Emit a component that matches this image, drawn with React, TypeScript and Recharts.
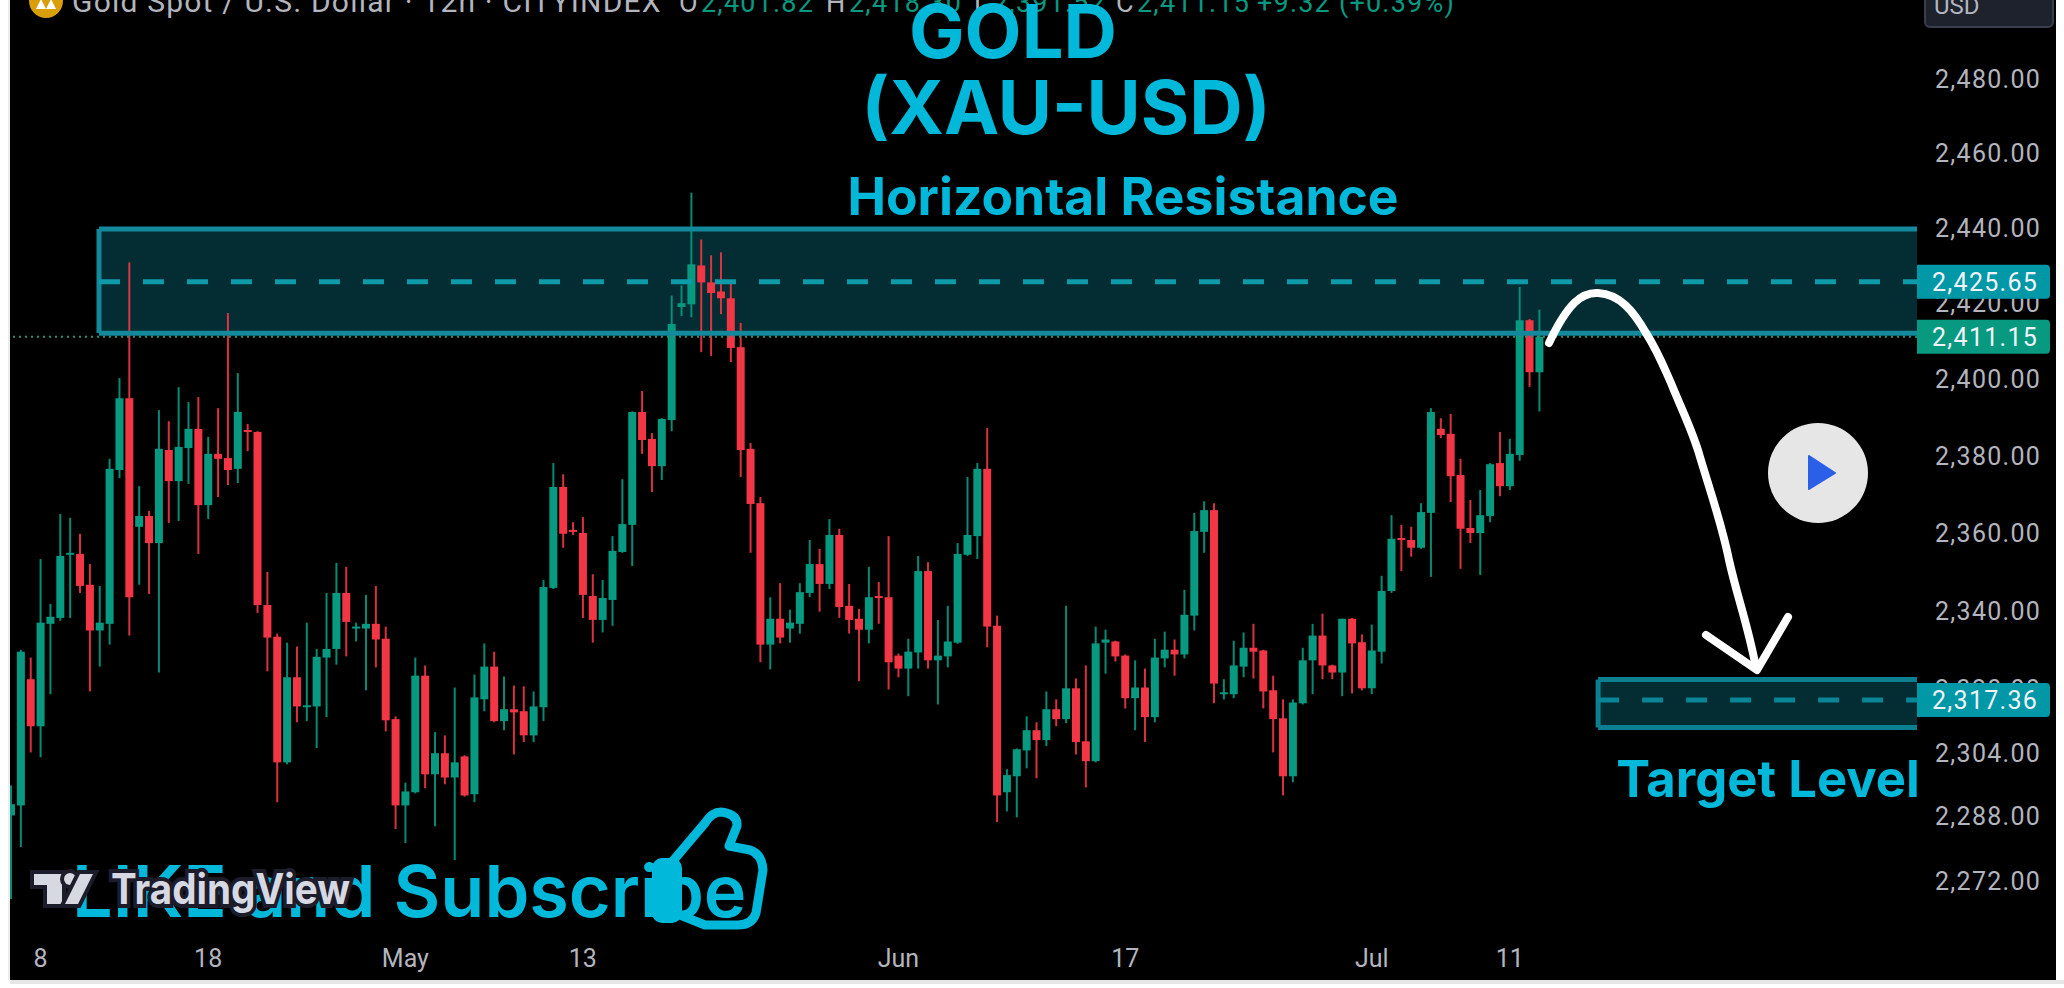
import React from 'react';
import { Bar, ComposedChart, ReferenceArea, ReferenceLine, XAxis, YAxis } from 'recharts';

const opens = [
  2288.3, 2290.8, 2322.6, 2310.7, 2336.7, 2338.2, 2354.4, 2354.6, 2346.7, 2335.0,
  2336.7, 2376.3, 2395.0, 2361.6, 2364.4, 2357.4, 2381.5, 2373.4, 2382.0, 2387.0,
  2367.2, 2380.5, 2379.4, 2376.6, 2386.7, 2386.2, 2341.5, 2333.4, 2301.6, 2323.1,
  2315.7, 2315.7, 2328.1, 2330.3, 2344.6, 2335.5, 2335.5, 2336.7, 2332.9, 2312.5,
  2290.8, 2294.1, 2323.5, 2298.6, 2303.9, 2297.8, 2303.1, 2293.6, 2317.5, 2325.8,
  2312.0, 2315.0, 2314.5, 2308.4, 2315.5, 2345.9, 2371.9, 2360.8, 2360.0, 2343.8,
  2337.7, 2342.8, 2355.1, 2362.1, 2391.4, 2384.4, 2377.3, 2389.3, 2419.0, 2419.7,
  2430.0, 2425.5, 2423.1, 2421.3, 2408.4, 2381.8, 2367.7, 2331.4, 2338.0, 2335.5,
  2336.7, 2344.6, 2352.0, 2346.9, 2359.5, 2341.3, 2338.0, 2335.2, 2343.8, 2343.5,
  2328.6, 2325.3, 2329.4, 2350.2, 2327.4, 2328.4, 2331.9, 2354.4, 2359.2, 2376.6,
  2336.2, 2294.1, 2298.1, 2304.6, 2309.7, 2307.2, 2315.0, 2312.5, 2320.3, 2306.9,
  2301.9, 2331.9, 2332.2, 2328.6, 2317.8, 2320.5, 2313.0, 2327.9, 2330.1, 2328.9,
  2338.8, 2360.3, 2365.9, 2318.8, 2318.8, 2325.8, 2330.6, 2329.9, 2319.8, 2312.7,
  2298.1, 2316.5, 2327.4, 2333.7, 2326.1, 2324.3, 2338.0, 2332.0, 2320.3, 2329.6,
  2345.1, 2358.7, 2358.2, 2356.2, 2365.2, 2387.0, 2385.7, 2375.0, 2361.3, 2360.0,
  2364.4, 2378.1, 2372.1, 2380.2, 2415.5, 2401.82,
];

const closes = [
  2291.1, 2329.6, 2310.7, 2337.0, 2338.5, 2354.1, 2354.9, 2346.4, 2335.0, 2337.0,
  2376.6, 2395.0, 2343.5, 2364.4, 2357.4, 2381.8, 2373.4, 2382.3, 2387.0, 2367.2,
  2380.5, 2379.2, 2376.3, 2391.4, 2386.2, 2341.5, 2333.2, 2301.6, 2323.1, 2315.7,
  2316.0, 2328.3, 2330.3, 2344.6, 2337.2, 2336.0, 2336.7, 2332.7, 2312.2, 2290.8,
  2294.3, 2323.5, 2298.6, 2303.9, 2297.8, 2301.6, 2293.3, 2318.0, 2325.8, 2312.0,
  2315.0, 2314.2, 2308.4, 2315.7, 2346.1, 2371.9, 2359.8, 2360.3, 2344.1, 2337.7,
  2343.3, 2355.4, 2362.3, 2391.4, 2384.1, 2377.3, 2389.6, 2414.5, 2420.0, 2430.3,
  2425.5, 2422.7, 2421.3, 2408.2, 2381.5, 2367.5, 2331.4, 2338.0, 2333.2, 2337.0,
  2344.8, 2352.0, 2346.9, 2359.5, 2341.0, 2337.7, 2335.2, 2343.5, 2343.3, 2326.9,
  2325.3, 2329.6, 2350.2, 2327.4, 2328.6, 2332.2, 2354.6, 2359.5, 2376.6, 2336.0,
  2293.3, 2298.4, 2304.9, 2309.7, 2307.2, 2315.0, 2312.5, 2320.3, 2306.7, 2301.9,
  2331.7, 2332.7, 2328.4, 2317.8, 2320.5, 2313.0, 2328.1, 2330.1, 2328.9, 2339.0,
  2360.5, 2365.9, 2321.5, 2319.3, 2326.1, 2330.6, 2329.6, 2319.5, 2312.5, 2298.1,
  2316.7, 2327.4, 2333.7, 2326.1, 2324.3, 2338.0, 2331.7, 2320.3, 2329.9, 2345.1,
  2358.5, 2358.2, 2356.2, 2365.4, 2391.4, 2385.4, 2374.7, 2361.1, 2360.0, 2364.6,
  2377.8, 2372.1, 2380.5, 2415.5, 2401.82, 2411.15,
];

const highs = [
  2295.8, 2330.1, 2328.1, 2353.3, 2341.8, 2364.9, 2363.9, 2359.8, 2352.0, 2346.4,
  2379.2, 2400.3, 2430.8, 2372.1, 2365.7, 2391.9, 2389.0, 2397.9, 2394.0, 2395.3,
  2384.9, 2392.4, 2417.4, 2401.6, 2388.3, 2386.4, 2350.0, 2334.2, 2331.9, 2330.9,
  2337.0, 2330.3, 2344.6, 2352.3, 2351.3, 2337.0, 2344.1, 2346.4, 2336.0, 2313.2,
  2296.5, 2328.1, 2326.1, 2309.2, 2308.4, 2320.5, 2303.4, 2323.8, 2331.7, 2329.6,
  2323.3, 2321.0, 2320.8, 2319.5, 2347.9, 2378.1, 2375.2, 2362.8, 2364.1, 2349.4,
  2347.9, 2359.2, 2373.9, 2391.6, 2396.9, 2385.9, 2389.8, 2422.0, 2424.7, 2449.4,
  2436.9, 2432.7, 2433.5, 2426.0, 2414.8, 2383.3, 2369.3, 2343.5, 2347.1, 2340.3,
  2347.1, 2358.2, 2355.9, 2363.6, 2361.1, 2346.9, 2340.5, 2351.3, 2347.4, 2359.2,
  2329.1, 2332.9, 2354.1, 2352.5, 2337.7, 2341.3, 2357.4, 2374.5, 2378.1, 2387.2,
  2338.8, 2299.9, 2305.1, 2313.2, 2311.7, 2319.5, 2317.5, 2341.3, 2322.8, 2326.1,
  2336.0, 2335.2, 2332.4, 2328.9, 2327.4, 2325.3, 2332.9, 2334.7, 2332.7, 2345.4,
  2365.2, 2368.2, 2367.7, 2322.6, 2332.4, 2334.5, 2336.7, 2330.1, 2323.5, 2317.5,
  2317.5, 2330.6, 2336.7, 2339.3, 2326.3, 2338.0, 2338.2, 2334.0, 2336.5, 2349.0,
  2364.6, 2362.1, 2361.6, 2367.7, 2392.4, 2389.8, 2390.9, 2379.2, 2368.5, 2371.1,
  2378.1, 2386.2, 2384.4, 2424.3, 2415.8, 2418.3,
];

const lows = [
  2267.5, 2280.4, 2304.1, 2302.9, 2318.8, 2337.5, 2338.2, 2344.6, 2319.5, 2325.8,
  2331.4, 2374.2, 2333.7, 2346.7, 2344.3, 2324.3, 2362.6, 2363.1, 2372.7, 2354.6,
  2363.6, 2369.3, 2372.4, 2372.9, 2381.2, 2339.5, 2324.6, 2291.6, 2301.1, 2311.7,
  2312.0, 2305.2, 2313.0, 2326.3, 2328.4, 2332.2, 2319.8, 2325.6, 2309.4, 2284.9,
  2281.4, 2293.8, 2295.1, 2285.6, 2296.1, 2277.2, 2293.0, 2291.6, 2314.5, 2311.7,
  2309.7, 2303.6, 2306.7, 2306.7, 2312.0, 2345.6, 2356.2, 2359.5, 2338.2, 2331.9,
  2334.5, 2336.2, 2354.9, 2351.5, 2380.5, 2370.6, 2373.7, 2386.4, 2416.6, 2416.3,
  2407.1, 2406.1, 2417.1, 2404.5, 2374.5, 2354.9, 2326.9, 2325.1, 2331.7, 2331.9,
  2334.2, 2343.5, 2339.8, 2345.6, 2338.2, 2334.2, 2322.1, 2331.7, 2336.7, 2320.0,
  2323.1, 2318.3, 2325.3, 2325.3, 2316.2, 2325.6, 2331.6, 2354.1, 2353.3, 2330.7,
  2286.6, 2289.3, 2287.8, 2300.1, 2297.6, 2305.7, 2310.7, 2311.5, 2303.6, 2295.3,
  2301.6, 2324.0, 2327.1, 2315.2, 2309.7, 2306.7, 2311.7, 2325.6, 2323.5, 2327.9,
  2335.0, 2354.9, 2316.5, 2317.5, 2317.8, 2323.1, 2322.8, 2315.2, 2304.1, 2293.3,
  2296.6, 2316.2, 2318.8, 2322.6, 2322.6, 2318.3, 2319.0, 2319.8, 2318.8, 2326.6,
  2344.6, 2350.2, 2353.9, 2355.9, 2348.7, 2384.6, 2368.0, 2350.8, 2357.4, 2349.2,
  2362.8, 2369.5, 2371.1, 2378.7, 2398.0, 2391.52,
];

const priceTicks = [2480, 2460, 2440, 2420, 2400, 2380, 2360, 2340, 2320, 2304, 2288, 2272];
const timeTickIndex = [3, 20, 40, 58, 90, 113, 138, 152];
const timeTickLabels = ['8', '18', 'May', '13', 'Jun', '17', 'Jul', '11'];

const UP = '#089981';
const DOWN = '#f23645';
const ZONE_FILL = '#032c33';
const ZONE_EDGE = '#13899b';
const CYAN = '#00b8d9';
const TEXT = '#b2b5be';
const FONT = 'Roboto, sans-serif';

const candles = opens.map((open, i) => ({
  i,
  open,
  close: closes[i],
  high: highs[i],
  low: lows[i],
  range: [lows[i], highs[i]],
}));

const chartMargin = { top: 0, right: 8, bottom: 8, left: 6 };
const xDomain = [-0.5, 193.3];
const yDomain = [2258.6, 2501.5];

// log price scale, so body edges are placed between the wick ends on a log ratio
const Candle = (props: any) => {
  const { x, y, width, height, payload } = props;
  const { open, close, high, low } = payload;
  const color = close >= open ? UP : DOWN;
  const cx = x + width / 2;
  const span = Math.log(high / low);
  const at = (v: number) => y + (height * Math.log(high / v)) / span;
  const top = at(Math.max(open, close));
  const bottom = at(Math.min(open, close));
  return (
    <g>
      <rect x={cx - 1} y={y} width={2} height={height} fill={color} opacity={0.9} />
      <rect x={cx - 4} y={top} width={8} height={Math.max(bottom - top, 2)} fill={color} />
    </g>
  );
};

const PriceTag = (props: any) => {
  const { viewBox, text, fill } = props;
  const left = viewBox.x + viewBox.width;
  const cy = viewBox.y;
  return (
    <g>
      <path
        d={`M${left} ${cy - 17}h129a4 4 0 0 1 4 4v26a4 4 0 0 1 -4 4h-129z`}
        fill={fill}
      />
      <text x={left + 15} y={cy + 9} fill="#f0f3fa" fontSize={25} fontFamily={FONT} letterSpacing={1.3}>
        {text}
      </text>
    </g>
  );
};

const Overlay = () => (
  <svg width={2064} height={988} style={{ position: 'absolute', left: 0, top: 0 }}>
    {/* header */}
    <circle cx={46} cy={1} r={17} fill="#d99f0b" />
    <path d="M36 9l5-10 5 10zM46 9l5-10 5 10z" fill="#fff" />
    <g fontFamily={FONT} letterSpacing={1.2}>
      <text x={72} y={12} fill={TEXT} fontSize={30}>Gold Spot / U.S. Dollar · 12h · CITYINDEX</text>
      <g fontSize={27}>
        <text x={679} y={12} fill={TEXT}>O</text>
        <text x={701} y={12} fill={UP}>2,401.82</text>
        <text x={826} y={12} fill={TEXT}>H</text>
        <text x={849} y={12} fill={UP}>2,418.30</text>
        <text x={974} y={12} fill={TEXT}>L</text>
        <text x={993} y={12} fill={UP}>2,391.52</text>
        <text x={1116} y={12} fill={TEXT}>C</text>
        <text x={1137} y={12} fill={UP}>2,411.15</text>
        <text x={1257} y={12} fill={UP}>+9.32</text>
        <text x={1339} y={12} fill={UP}>(+0.39%)</text>
      </g>
    </g>
    <rect x={1925} y={-8} width={128} height={35} rx={5} fill="#1e222d" stroke="#3a3e4a" strokeWidth={2} />
    <text x={1934} y={14} fill={TEXT} fontFamily={FONT} fontSize={24}>USD</text>

    {/* titles */}
    <g fontFamily="Inter, sans-serif" fontWeight={700} fill={CYAN} textAnchor="middle">
      <text x={1013} y={58} fontSize={74}>GOLD</text>
      <text x={1066} y={134} fontSize={74}>(XAU-USD)</text>
      <text x={1123} y={215} fontSize={51.6}>Horizontal Resistance</text>
      <text x={1768} y={797} fontSize={50.8}>Target Level</text>
    </g>

    {/* projected path */}
    <g fill="none" stroke="#fff" strokeLinecap="round" strokeLinejoin="round">
      <path
        d="M1549 343C1568 303 1582 292 1598 293C1620 294 1634 312 1646 333C1657 350 1663 365 1671 383C1684 415 1693 432 1700 457C1712 497 1722 525 1729 560C1738 600 1748 625 1756 668"
        strokeWidth={8}
      />
      <path d="M1706 635L1757 670L1788 617" strokeWidth={8} />
    </g>

    {/* play button */}
    <circle cx={1818} cy={473} r={50} fill="#e6e6e6" />
    <path d="M1809 456L1835 473L1809 489Z" fill="#2b5fe8" strokeLinejoin="round" stroke="#2b5fe8" strokeWidth={2} />

    {/* subscribe */}
    <text x={72} y={917} fontFamily="Inter, sans-serif" fontWeight={600} fontSize={72} fill={CYAN}>LIKE and Subscribe</text>
    <path
      d="M672 862L705 823Q712 812 721 812Q738 814 737 826L729 846L750 850Q762 854 763 870L756 913Q752 925 738 925L705 925L680 915"
      fill="none"
      stroke={CYAN}
      strokeWidth={9}
      strokeLinejoin="round"
      strokeLinecap="round"
    />
    <rect x={652} y={858} width={30} height={65} rx={10} fill={CYAN} />

    {/* watermark */}
    <g fill="#d6d8e2" stroke="#1c1c2a" strokeWidth={8} style={{ paintOrder: 'stroke' }}>
      <path d="M34 874H62V904H47V885H34Z" />
      <circle cx={70} cy={879} r={6} />
      <path d="M80 874H93L78 904H65Z" />
      <text x={111} y={904} fontFamily="Inter, sans-serif" fontWeight={700} fontSize={42} textLength={239} lengthAdjust="spacingAndGlyphs">
        TradingView
      </text>
    </g>

    {/* page edges outside the panel */}
    <rect x={0} y={0} width={8} height={988} fill="#fff" />
    <rect x={8} y={0} width={2} height={980} fill="#ececec" />
    <rect x={10} y={980} width={2054} height={4} fill="#e6e6e6" />
  </svg>
);

const App = () => (
  <div style={{ position: 'absolute', left: 0, top: 0, width: 2064, height: 988, background: '#fff', overflow: 'hidden' }}>
    <div style={{ position: 'absolute', left: 10, top: 0, width: 2046, height: 980, background: '#000' }} />
    <div style={{ position: 'absolute', left: 0, top: 0 }}>
      <ComposedChart width={2064} height={988} data={candles} margin={chartMargin} barSize={8}>
        <XAxis
          dataKey="i"
          type="number"
          domain={xDomain}
          ticks={timeTickIndex}
          tickFormatter={(v: number) => timeTickLabels[timeTickIndex.indexOf(v)]}
          interval={0}
          height={45}
          axisLine={false}
          tickLine={false}
          tickMargin={8}
          tick={{ fill: TEXT, fontSize: 25, fontFamily: FONT }}
          allowDataOverflow
        />
        <YAxis
          orientation="right"
          scale="log"
          domain={yDomain}
          ticks={priceTicks}
          tickFormatter={(v: number) => v.toLocaleString('en-US', { minimumFractionDigits: 2 })}
          interval={0}
          width={139}
          axisLine={false}
          tickLine={false}
          tickMargin={12}
          tick={{ fill: TEXT, fontSize: 25, fontFamily: FONT, letterSpacing: 1.3 }}
          allowDataOverflow
        />
        <ReferenceArea x1={8.93} x2={193.3} y1={2412.1} y2={2439.7} fill={ZONE_FILL} fillOpacity={1} stroke="none" />
        <ReferenceArea x1={160.96} x2={193.3} y1={2310.4} y2={2322.5} fill={ZONE_FILL} fillOpacity={1} stroke="none" />
        <ReferenceLine y={2411.15} stroke="#2f8f78" strokeWidth={2} strokeDasharray="2 4" />
        <ReferenceLine segment={[{ x: 8.93, y: 2439.7 }, { x: 193.3, y: 2439.7 }]} stroke={ZONE_EDGE} strokeWidth={5} />
        <ReferenceLine segment={[{ x: 8.93, y: 2412.1 }, { x: 193.3, y: 2412.1 }]} stroke={ZONE_EDGE} strokeWidth={5} />
        <ReferenceLine segment={[{ x: 8.93, y: 2412.1 }, { x: 8.93, y: 2439.7 }]} stroke={ZONE_EDGE} strokeWidth={5} />
        <ReferenceLine segment={[{ x: 160.96, y: 2322.5 }, { x: 193.3, y: 2322.5 }]} stroke="#0c7f90" strokeWidth={5} />
        <ReferenceLine segment={[{ x: 160.96, y: 2310.4 }, { x: 193.3, y: 2310.4 }]} stroke="#0c7f90" strokeWidth={5} />
        <ReferenceLine segment={[{ x: 160.96, y: 2310.4 }, { x: 160.96, y: 2322.5 }]} stroke="#0c7f90" strokeWidth={5} />
        <ReferenceLine segment={[{ x: 8.93, y: 2425.65 }, { x: 193.3, y: 2425.65 }]} stroke="#0e9aa9" strokeWidth={5} strokeDasharray="21 23" />
        <ReferenceLine segment={[{ x: 160.96, y: 2317.36 }, { x: 193.3, y: 2317.36 }]} stroke="#0a8596" strokeWidth={5} strokeDasharray="21 23" />
        <Bar dataKey="range" shape={<Candle />} isAnimationActive={false} />
      </ComposedChart>
    </div>
    {/* second layer on the same scales: the price tags sit on top of the axis ticks */}
    <div style={{ position: 'absolute', left: 0, top: 0 }}>
      <ComposedChart width={2064} height={988} data={candles} margin={chartMargin}>
        <XAxis dataKey="i" type="number" domain={xDomain} height={45} axisLine={false} tickLine={false} tick={false} allowDataOverflow />
        <YAxis orientation="right" scale="log" domain={yDomain} width={139} axisLine={false} tickLine={false} tick={false} allowDataOverflow />
        <ReferenceLine y={2411.15} stroke="none" label={<PriceTag text="2,411.15" fill={UP} />} />
        <ReferenceLine y={2425.65} stroke="none" label={<PriceTag text="2,425.65" fill="#0097a7" />} />
        <ReferenceLine y={2317.36} stroke="none" label={<PriceTag text="2,317.36" fill="#0097a7" />} />
      </ComposedChart>
    </div>
    <Overlay />
  </div>
);

export default App;
